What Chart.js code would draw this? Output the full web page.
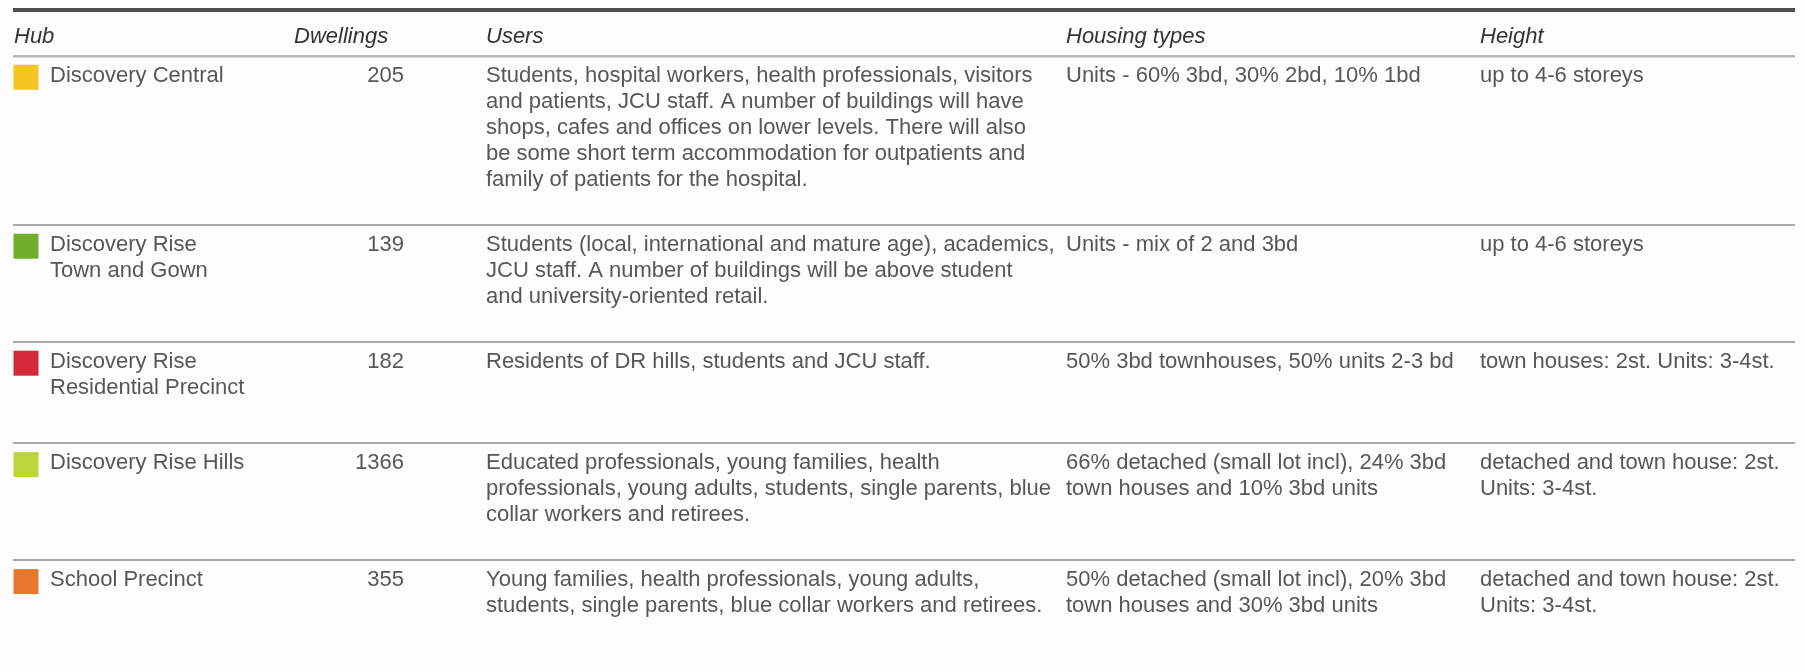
<!DOCTYPE html>
<html>
<head>
<meta charset="utf-8">
<title>Discovery hubs</title>
<script src="https://cdn.jsdelivr.net/npm/chart.js@4.4.1/dist/chart.umd.min.js"></script>
<style>
    html, body {
        margin: 0;
        padding: 0;
        background: #fdfdfd;
    }
    #wrap {
        width: 1805px;
        height: 672px;
    }
</style>
</head>
<body>
<div id="wrap">
    <canvas id="hubTable" width="1805" height="672"></canvas>
</div>
<script>
// DATA
const columns = ["Hub", "Dwellings", "Users", "Housing types", "Height"];

const hubs = [
    "Discovery Central",
    "Discovery Rise\nTown and Gown",
    "Discovery Rise\nResidential Precinct",
    "Discovery Rise Hills",
    "School Precinct"
];

const dwellings = [205, 139, 182, 1366, 355];

const users = [
    "Students, hospital workers, health professionals, visitors\nand patients, JCU staff. A number of buildings will have\nshops, cafes and offices on lower levels. There will also\nbe some short term accommodation for outpatients and\nfamily of patients for the hospital.",
    "Students (local, international and mature age), academics,\nJCU staff. A number of buildings will be above student\nand university-oriented retail.",
    "Residents of DR hills, students and JCU staff.",
    "Educated professionals, young families, health\nprofessionals, young adults, students, single parents, blue\ncollar workers and retirees.",
    "Young families, health professionals, young adults,\nstudents, single parents, blue collar workers and retirees."
];

const housingTypes = [
    "Units - 60% 3bd, 30% 2bd, 10% 1bd",
    "Units - mix of 2 and 3bd",
    "50% 3bd townhouses, 50% units 2-3 bd",
    "66% detached (small lot incl), 24% 3bd\ntown houses and 10% 3bd units",
    "50% detached (small lot incl), 20% 3bd\ntown houses and 30% 3bd units"
];

const heights = [
    "up to 4-6 storeys",
    "up to 4-6 storeys",
    "town houses: 2st. Units: 3-4st.",
    "detached and town house: 2st.\nUnits: 3-4st.",
    "detached and town house: 2st.\nUnits: 3-4st."
];

const hubColors = ["#f5c523", "#72ad2d", "#d42a3c", "#bcd53a", "#e8772e"];

// LAYOUT (y in text-line units, x in page px)
const LINE_PX = 26;
const TOP_RULE = 0.38;
const HEADER_END = 2.15;
const HEADER_BASE = 1.64;
const FIRST_BASE = 1.0;
const ROW_PAD = 1.5;
const MIN_LINES = 2.4;

const RULE_LEFT = 13;
const RULE_RIGHT = 1795;
const SWATCH_X = 26;
const SWATCH_SIDE = 25;
const SWATCH_MID = 0.82;

const colX = {
    hub: 14,
    hubText: 50,
    dwellHead: 294,
    dwellRight: 404,
    users: 486,
    housing: 1066,
    height: 1480
};

const BODY_FONT = "22px 'Liberation Sans', Arial, sans-serif";
const HEAD_FONT = "italic 22px 'Liberation Sans', Arial, sans-serif";

// ROW POSITIONS FROM LINE COUNTS
const cellLines = (s) => String(s).split("\n");

const rowStarts = [];
let cursor = HEADER_END;

hubs.forEach((hub, i) => {
    rowStarts.push(cursor);
    const lines = Math.max(
        cellLines(hub).length,
        cellLines(users[i]).length,
        cellLines(housingTypes[i]).length,
        cellLines(heights[i]).length
    );
    cursor += Math.max(lines, MIN_LINES) + ROW_PAD;
});

// rules: top rule, header rule, rules between rows
const rules = [TOP_RULE, HEADER_END, ...rowStarts.slice(1)];

// TABLE TEXT PLUGIN
const tableTextPlugin = {

    id: "tableTextPlugin",

    afterDatasetsDraw(chart) {

        const ctx = chart.ctx;
        const x = chart.scales.x;
        const y = chart.scales.y;

        ctx.save();
        ctx.textBaseline = "alphabetic";

        // header
        ctx.font = HEAD_FONT;
        ctx.fillStyle = "#333333";
        ctx.textAlign = "left";

        const headX = [colX.hub, colX.dwellHead, colX.users, colX.housing, colX.height];

        columns.forEach((col, c) => {
            ctx.fillText(col, x.getPixelForValue(headX[c]), y.getPixelForValue(HEADER_BASE));
        });

        // body
        ctx.font = BODY_FONT;
        ctx.fillStyle = "#575757";

        const drawCell = (text, xv, start, align) => {
            ctx.textAlign = align;
            cellLines(text).forEach((line, k) => {
                ctx.fillText(
                    line,
                    x.getPixelForValue(xv),
                    y.getPixelForValue(start + FIRST_BASE + k)
                );
            });
        };

        hubs.forEach((hub, i) => {
            const start = rowStarts[i];
            drawCell(hub, colX.hubText, start, "left");
            drawCell(dwellings[i], colX.dwellRight, start, "right");
            drawCell(users[i], colX.users, start, "left");
            drawCell(housingTypes[i], colX.housing, start, "left");
            drawCell(heights[i], colX.height, start, "left");
        });

        ctx.restore();
    }
};

// CHART
const canvas = document.getElementById("hubTable");
const pageW = canvas.width;
const pageH = canvas.height;

new Chart(canvas, {
    type: "scatter",

    data: {
        datasets: [{
            label: "Hub",
            data: hubs.map((hub, i) => ({
                x: SWATCH_X,
                y: rowStarts[i] + SWATCH_MID
            })),
            pointStyle: "rect",
            pointRadius: SWATCH_SIDE / Math.SQRT2,
            pointHoverRadius: SWATCH_SIDE / Math.SQRT2,
            pointBackgroundColor: hubColors,
            pointBorderWidth: 0,
            borderWidth: 0
        }]
    },

    options: {
        responsive: false,
        devicePixelRatio: 1,
        animation: false,
        events: [],

        layout: {
            autoPadding: false,
            padding: {
                left: RULE_LEFT,
                right: pageW - RULE_RIGHT,
                top: 0,
                bottom: 0
            }
        },

        plugins: {
            legend: { display: false },
            tooltip: { enabled: false }
        },

        scales: {
            x: {
                type: "linear",
                display: false,
                min: RULE_LEFT,
                max: RULE_RIGHT
            },

            y: {
                type: "linear",
                reverse: true,
                min: 0,
                max: pageH / LINE_PX,
                afterBuildTicks: (scale) => {
                    scale.ticks = rules.map((v) => ({ value: v }));
                },
                ticks: { display: false },
                border: { display: false },
                grid: {
                    drawTicks: false,
                    color: (c) => c.index === 0 ? "#4e4e4e" : (c.index === 1 ? "#b8b8b8" : "#a9a9a9"),
                    lineWidth: (c) => c.index === 0 ? 4 : (c.index === 1 ? 2.5 : 2)
                }
            }
        }
    },

    plugins: [tableTextPlugin]
});
</script>
</body>
</html>
